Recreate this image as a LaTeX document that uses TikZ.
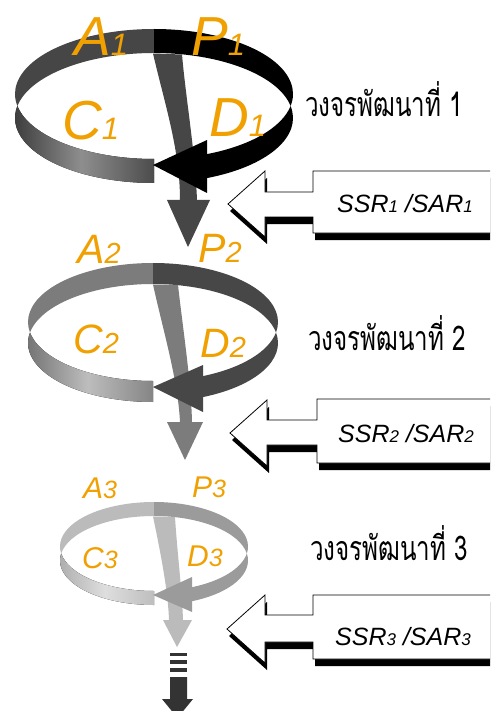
\documentclass[tikz,border=0pt]{standalone}
\usepackage{fontspec}
\setsansfont{Liberation Sans}
\newfontfamily\thaifont[Script=Thai]{Loma}
\definecolor{lab}{HTML}{F0A000}
\definecolor{c1l}{HTML}{464646}
\definecolor{c1r}{HTML}{000000}
\definecolor{c2l}{HTML}{7C7C7C}
\definecolor{c2r}{HTML}{474747}
\definecolor{c3l}{HTML}{BBBBBB}
\definecolor{c3r}{HTML}{9B9B9B}
\definecolor{cdark}{HTML}{333333}
\definecolor{f1a}{HTML}{363636}
\definecolor{f1b}{HTML}{8E8E8E}
\definecolor{f1c}{HTML}{4C4C4C}
\definecolor{f2a}{HTML}{6E6E6E}
\definecolor{f2b}{HTML}{BDBDBD}
\definecolor{f2c}{HTML}{858585}
\definecolor{f3a}{HTML}{ABABAB}
\definecolor{f3b}{HTML}{DEDEDE}
\definecolor{f3c}{HTML}{BEBEBE}
\tikzset{
  cyclab/.style={text=lab, font=\sffamily\itshape, anchor=base west, inner sep=0pt},
  ssrtxt/.style={anchor=base west, inner sep=0pt, font=\sffamily\itshape},
  thaitxt/.style={anchor=base west, inner sep=0pt, font=\thaifont\fontsize{34}{34}\selectfont},
  bigarrowbody/.style={fill=white, draw=black, line width=0.8pt},
  c1front/.style={left color=f1a, right color=f1c, middle color=f1b},
  c2front/.style={left color=f2a, right color=f2c, middle color=f2b},
  c3front/.style={left color=f3a, right color=f3c, middle color=f3b},
}
% #1 cx, #2 y0 (top ellipse centre, image y), #3 a, #4 b, #5 h, #6 xb, #7 left col, #8 right col, #9 front style
\newcommand{\ribbon}[9]{%
  \pgfmathsetmacro\yT{-#2}%
  \pgfmathsetmacro\yB{-#2-#5}%
  \pgfmathsetmacro\sa{asin(#5/(2*#4))}%
  \pgfmathsetmacro\tb{acos((#6-#1)/#3)}%
  \pgfmathsetmacro\ytb{\yT-#4*sin(\tb)}%
  \fill[#7] ({#1},{\yT+#4}) arc[start angle=90,end angle={180+\sa},x radius=#3,y radius=#4]
     arc[start angle={180-\sa},end angle=90,x radius=#3,y radius=#4] -- cycle;
  \fill[#9] ({#1},{\yT-#4}) arc[start angle=270,end angle={180+\sa},x radius=#3,y radius=#4]
     arc[start angle={180-\sa},end angle=270,x radius=#3,y radius=#4] -- cycle;
  \fill[#8] ({#1},{\yT+#4}) arc[start angle=90,end angle={-\sa},x radius=#3,y radius=#4]
     arc[start angle={\sa},end angle={-\tb},x radius=#3,y radius=#4]
     -- ({#6},{\ytb})
     arc[start angle={-\tb},end angle={-\sa},x radius=#3,y radius=#4]
     arc[start angle={\sa},end angle=90,x radius=#3,y radius=#4] -- cycle;
}
% #1 tipx, #2 headx, #3 headtop, #4 headbot, #5 necktop, #6 neckbot, #7 boxx, #8 boxtop, #9 boxbot
\newcommand{\bigarrow}[9]{%
  \fill[black, shift={(2,-7)}] (#1,{-(#3+#4)/2}) -- (#2,-#3) -- (#2,-#5) -- (#7,-#5) -- (#7,-#8)
     -- (505,-#8) -- (505,-#9) -- (#7,-#9) -- (#7,-#6) -- (#2,-#6) -- (#2,-#4) -- cycle;
  \draw[bigarrowbody] (#1,{-(#3+#4)/2}) -- (#2,-#3) -- (#2,-#5) -- (#7,-#5) -- (#7,-#8)
     -- (505,-#8) -- (505,-#9) -- (#7,-#9) -- (#7,-#6) -- (#2,-#6) -- (#2,-#4) -- cycle;
}
\newcommand{\cyl}[4]{{\fontsize{#1}{#1}\selectfont #3}{\fontsize{#2}{#2}\selectfont #4}}
\newcommand{\ssr}[1]{\fontsize{25}{25}\selectfont SSR{\fontsize{17}{17}\selectfont #1} /SAR{\fontsize{17}{17}\selectfont #1}}
\newcommand{\thtxt}[1]{\scalebox{0.71}[1]{#1}}
\begin{document}
\begin{tikzpicture}[x=1pt,y=1pt]
\useasboundingbox (0,0) rectangle (490,-711);
\clip (0,0) rectangle (490,-711);
\fill[white] (0,0) rectangle (490,-711);

% ---------- cycle 1 ----------
\ribbon{154}{94}{139}{65}{24}{207}{c1l}{c1r}{c1front}
\fill[c1l] (153,-53.5) .. controls (165,-105) and (180,-150) .. (180,-200) -- (167,-200) -- (188,-247)
   -- (210,-200) -- (197,-200) .. controls (195,-150) and (186,-100) .. (182,-54.5) -- cycle;
\fill[c1r] (153,-165) -- (207,-140) -- (207,-193) -- cycle;
\node[cyclab] (A1) at (74,-56) {\cyl{55}{31}{A}{1}};
\node[cyclab] (P1) at (191,-56) {\cyl{55}{31}{P}{1}};
\node[cyclab] (C1) at (62,-140) {\cyl{55}{31}{C}{1}};
\node[cyclab] (D1) at (209,-137) {\cyl{55}{31}{D}{1}};

% ---------- cycle 2 ----------
\ribbon{153}{322}{125}{59}{21}{203}{c2l}{c2r}{c2front}
\fill[c2l] (153,-284.5) .. controls (163,-330) and (178,-380) .. (180,-422) -- (167,-422) -- (185,-460)
   -- (203,-422) -- (192,-422) .. controls (191,-380) and (183,-330) .. (178,-285) -- cycle;
\fill[c2r] (153,-387) -- (203,-365) -- (203,-412) -- cycle;
\node[cyclab] (A2) at (77,-263) {\cyl{41}{29}{A}{2}};
\node[cyclab] (P2) at (198,-262) {\cyl{41}{29}{P}{2}};
\node[cyclab] (C2) at (73,-353) {\cyl{41}{29}{C}{2}};
\node[cyclab] (D2) at (200,-357) {\cyl{41}{29}{D}{2}};

% ---------- cycle 3 ----------
\ribbon{154}{546.5}{94}{44.5}{14}{192}{c3l}{c3r}{c3front}
\fill[c3l] (153,-516.5) .. controls (160,-550) and (168,-590) .. (169,-620) -- (163,-620) -- (177,-647)
   -- (192,-620) -- (183,-620) .. controls (182,-590) and (177,-550) .. (175,-517) -- cycle;
\fill[c3r] (153,-595) -- (192,-577) -- (192,-612) -- cycle;
\node[cyclab] (A3) at (83,-498) {\cyl{30}{25}{A}{3}};
\node[cyclab] (P3) at (192,-497) {\cyl{30}{25}{P}{3}};
\node[cyclab] (C3) at (82,-568) {\cyl{30}{25}{C}{3}};
\node[cyclab] (D3) at (187,-566) {\cyl{30}{25}{D}{3}};

% ---------- striped arrow ----------
\fill[cdark] (170,-653) rectangle (187,-656);
\fill[cdark] (170,-660) rectangle (187,-664);
\fill[cdark] (170,-668) rectangle (187,-672);
\fill[cdark] (170,-677) -- (187,-677) -- (187,-699) -- (193,-699) -- (177.5,-718) -- (162,-699) -- (170,-699) -- cycle;

% ---------- Thai labels ----------
\node[thaitxt] (T1) at (305,-117) {\thtxt{วงจรพัฒนาที่ 1}};
\node[thaitxt] (T2) at (308,-350) {\thtxt{วงจรพัฒนาที่ 2}};
\node[thaitxt] (T3) at (310,-560) {\thtxt{วงจรพัฒนาที่ 3}};

% ---------- SSR arrows ----------
\bigarrow{228}{265}{171}{237}{192}{217}{313}{171}{233}
\bigarrow{230}{267}{400}{466}{420}{445}{317}{399}{463}
\bigarrow{227}{265}{595}{663}{615}{642}{313}{595}{659}
\node[ssrtxt] (S1) at (337,-213) {\ssr{1}};
\node[ssrtxt] (S2) at (338,-442) {\ssr{2}};
\node[ssrtxt] (S3) at (335,-645) {\ssr{3}};
\end{tikzpicture}
\end{document}
